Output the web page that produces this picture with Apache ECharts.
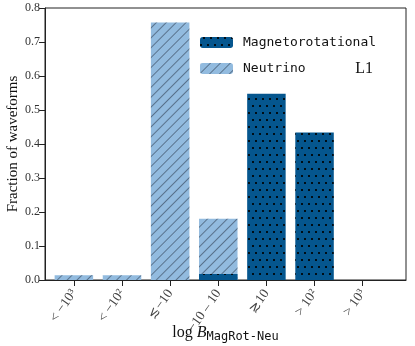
<!DOCTYPE html>
<html>
<head>
<meta charset="utf-8">
<script src="https://cdn.jsdelivr.net/npm/echarts@6/dist/echarts.min.js"></script>
<style>
  html, body { margin: 0; padding: 0; background: #fff; }
  #main { width: 415px; height: 346px; }
</style>
</head>
<body>
<div id="main"></div>
<script>
// bins of log B_MagRot-Neu
var categories = ["< \u221210\u00b3", "< \u221210\u00b2", "\u2272\u221210", "\u221210 \u2013 10", "\u227310", "> 10\u00b2", "> 10\u00b3"];
var neutrino = [0.014, 0.014, 0.757, 0.18, 0, 0, 0];
var magnetorotational = [0, 0, 0, 0.018, 0.548, 0.434, 0];
var yTicks = [0, 0.1, 0.2, 0.3, 0.4, 0.5, 0.6, 0.7, 0.8];

var serif = "Liberation Serif";
var mono = "DejaVu Sans Mono";

function pairs(arr) {
  return arr.map(function (v, i) { return [i, v]; });
}

var myChart = echarts.init(document.getElementById("main"));

myChart.setOption({
  animation: false,
  grid: {
    left: 45,
    right: 9,
    top: 8,
    bottom: 66,
    outerBoundsMode: "none",
    containLabel: false,
    show: true,
    borderColor: "#222",
    borderWidth: 1,
  },
  title: {
    text: "L1",
    right: 37,
    top: 56,
    textStyle: { fontFamily: serif, fontSize: 16, fontWeight: "normal", color: "#111" },
  },
  legend: {
    orient: "vertical",
    left: 195,
    top: 31,
    itemWidth: 33,
    itemHeight: 11,
    itemGap: 13,
    data: ["Magnetorotational", "Neutrino"],
    textStyle: { fontFamily: mono, fontSize: 13, color: "#111", padding: [0, 0, 0, 5] },
  },
  xAxis: {
    type: "value",
    min: -0.6,
    max: 6.9,
    splitLine: { show: false },
    axisLine: { onZero: false, lineStyle: { color: "#222" } },
    axisTick: {
      customValues: [0, 1, 2, 3, 4, 5, 6],
      length: 6,
      lineStyle: { color: "#222" },
    },
    axisLabel: {
      customValues: [0, 1, 2, 3, 4, 5, 6],
      rotate: 55,
      margin: 11,
      fontFamily: serif,
      fontSize: 13.5,
      color: "#444",
      formatter: function (v) { return categories[Math.round(v)]; },
    },
    name: "{a|log }{b|B}{c|MagRot-Neu}",
    nameLocation: "middle",
    nameMoveOverlap: false,
    nameGap: 43,
    nameTextStyle: {
      rich: {
        a: { fontFamily: serif, fontSize: 16, color: "#111" },
        b: { fontFamily: serif, fontSize: 16, fontStyle: "italic", color: "#111" },
        c: { fontFamily: mono, fontSize: 12, color: "#111", padding: [8, 0, 0, 0] },
      },
    },
  },
  yAxis: {
    type: "value",
    min: 0,
    max: 0.8,
    interval: 0.1,
    splitLine: { show: false },
    axisLine: { show: true, onZero: false, lineStyle: { color: "#222" } },
    axisTick: { show: true, length: 6, lineStyle: { color: "#222" } },
    axisLabel: {
      fontFamily: serif,
      fontSize: 12,
      color: "#333",
      margin: 5,
      formatter: function (v) { return v.toFixed(1); },
    },
    name: "Fraction of waveforms",
    nameLocation: "middle",
    nameMoveOverlap: false,
    nameGap: 24,
    nameTextStyle: { fontFamily: serif, fontSize: 15, color: "#111" },
  },
  series: [
    {
      name: "Neutrino",
      type: "bar",
      data: pairs(neutrino),
      barWidth: 38.5,
      barGap: "-100%",
      itemStyle: {
        color: "#92bbdf",
        decal: {
          symbol: "rect",
          color: "rgba(50,65,85,0.6)",
          dashArrayX: [1, 0],
          dashArrayY: [1, 6],
          rotation: -Math.PI / 4,
        },
      },
    },
    {
      name: "Magnetorotational",
      type: "bar",
      data: pairs(magnetorotational),
      barWidth: 38.5,
      barGap: "-100%",
      itemStyle: {
        color: "#05568e",
        decal: {
          symbol: "rect",
          symbolSize: 1,
          color: "rgba(0,0,0,0.85)",
          dashArrayX: [[1.5, 4.2], [0, 2.85, 1.5, 1.35]],
          dashArrayY: [1.5, 4.2],
        },
      },
    },
  ],
});
</script>
</body>
</html>
